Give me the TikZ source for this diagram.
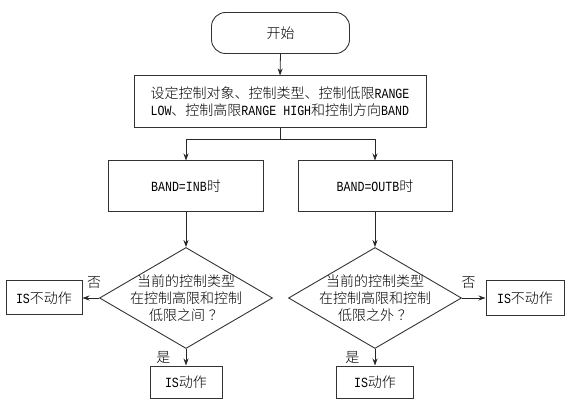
\documentclass[tikz,border=0pt]{standalone}
\usepackage{fontspec}
\setmainfont{Noto Sans CJK SC}[UprightFont={* Light}]
\newfontfamily\latinfont{Liberation Mono}[FakeStretch=0.83]
\usetikzlibrary{shapes.geometric,arrows.meta}

\begin{document}
\begin{tikzpicture}[
x=1pt, y=-1pt,
font=\fontsize{14}{17}\selectfont,
>={Stealth[length=7pt,width=5pt]},
startnode/.style={rounded corners=14pt, draw=black!80, line width=0.9pt, minimum width=138pt, minimum height=41pt},
boxnode/.style={draw=black!80, line width=1pt, inner sep=0pt},
decisionnode/.style={diamond, draw=black!80, line width=0.9pt, shape aspect=1.71, inner sep=-4pt, minimum width=173pt, minimum height=101pt, align=center},
line/.style={draw=black!85, line width=0.8pt},
]
\useasboundingbox (0,0) rectangle (568,406);

%Nodes
\node[startnode] (start) at (280.5,33) {开始};
\node[boxnode, minimum width=292pt, minimum height=52pt, align=left] (setup) at (280,102) {设定控制对象、控制类型、控制低限{\latinfont RANGE}\\{\latinfont LOW}、控制高限{\latinfont RANGE HIGH}和控制方向{\latinfont BAND}};
\coordinate (split) at (280,139);
\node[boxnode, minimum width=155pt, minimum height=51pt] (band_inb) at (186,186.5) {{\latinfont BAND=INB}时};
\node[boxnode, minimum width=154pt, minimum height=51pt] (band_outb) at (375,186.5) {{\latinfont BAND=OUTB}时};
\node[decisionnode] (check_inb) at (186,298) {当前的控制类型\\在控制高限和控制\\低限之间\hspace{4pt}？};
\node[decisionnode] (check_outb) at (375,298) {当前的控制类型\\在控制高限和控制\\低限之外\hspace{4pt}？};
\node[boxnode, minimum width=76pt, minimum height=34pt] (idle_inb) at (44,298) {{\latinfont IS}不动作};
\node[boxnode, minimum width=78pt, minimum height=35pt] (idle_outb) at (525,298) {{\latinfont IS}不动作};
\node[boxnode, minimum width=72pt, minimum height=32pt] (act_inb) at (186,382) {{\latinfont IS}动作};
\node[boxnode, minimum width=77pt, minimum height=32pt] (act_outb) at (375,382) {{\latinfont IS}动作};

%Lines
\draw[line,->] (start.south) -- (setup.north);
\draw[line] (setup.south) -- (split);
\draw[line,->] (split) -| (band_inb.north);
\draw[line,->] (split) -| (band_outb.north);
\draw[line,->] (band_inb.south) -- (check_inb.north);
\draw[line,->] (band_outb.south) -- (check_outb.north);
\draw[line,->] (check_inb.west) -- (idle_inb.east) node[pos=0.3, above=6pt] {否};
\draw[line,->] (check_outb.east) -- (idle_outb.west) node[pos=0.28, above=6pt] {否};
\draw[line,->] (check_inb.south) -- (act_inb.north) node[midway, left=12pt] {是};
\draw[line,->] (check_outb.south) -- (act_outb.north) node[midway, left=12pt] {是};

\end{tikzpicture}
\end{document}
